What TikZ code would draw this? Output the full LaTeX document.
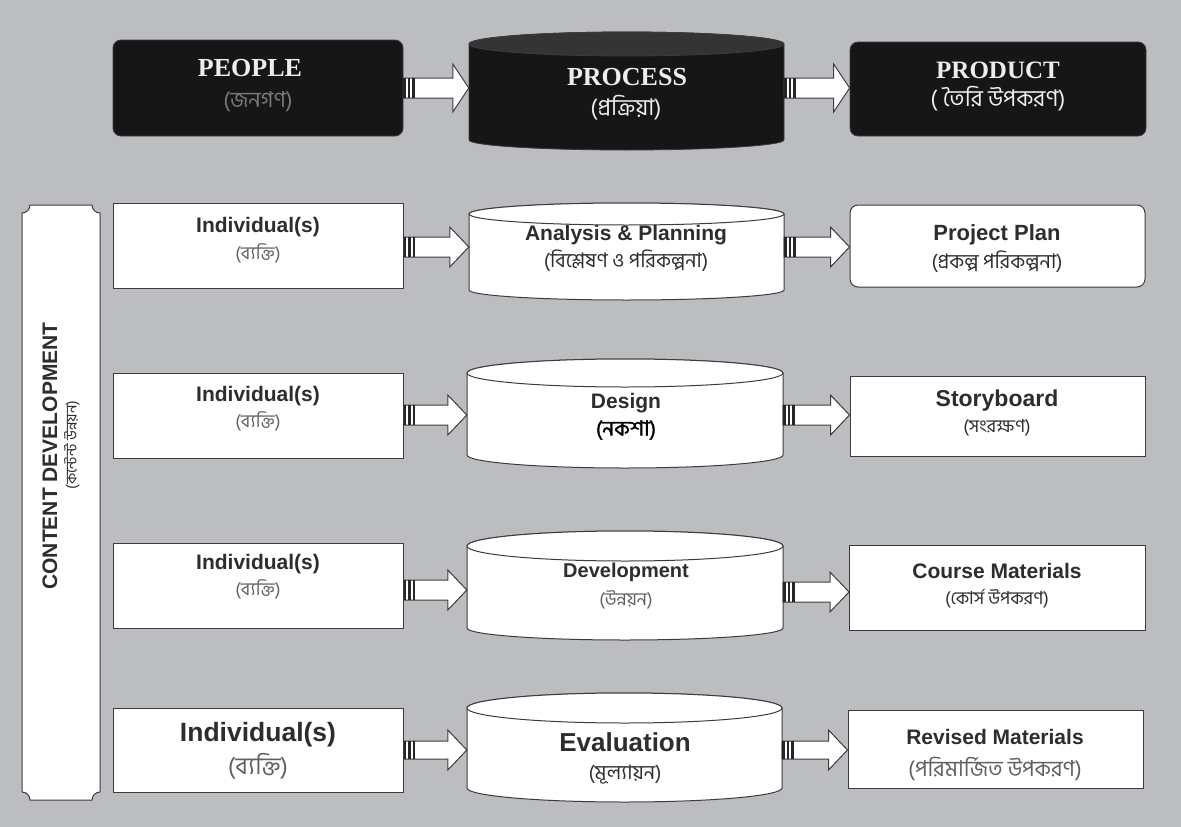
\documentclass[tikz,border=0pt]{standalone}
\usepackage{fontspec}
\setmainfont{Liberation Sans}
\newfontfamily\timesf{Liberation Serif}
\newfontfamily\bn[Script=Bengali]{Hind Siliguri}
\newfontfamily\bnb[Script=Bengali,FakeBold=1.5]{Hind Siliguri}
\usetikzlibrary{calc}
\definecolor{bg}{RGB}{188,189,193}
\definecolor{ink}{RGB}{45,45,45}
\definecolor{edge}{RGB}{60,60,60}
\definecolor{blk}{RGB}{22,22,22}
\definecolor{captop}{RGB}{52,52,52}
\definecolor{subgray}{RGB}{120,120,120}
\newcommand\fs[1]{\fontsize{#1}{#1}\selectfont}
\tikzset{
  box/.style={draw=edge, line width=1pt, fill=white, inner sep=0pt},
  topbox/.style={draw=edge, line width=0.8pt, fill=blk, rounded corners=8pt, inner sep=0pt},
  barshape/.style={draw=edge, line width=1pt, fill=white},
  cylbody/.style={draw=edge, line width=1pt, fill=white},
  cyltop/.style={draw=edge, line width=1pt, fill=white},
  dcylbody/.style={draw=edge, line width=0.8pt, fill=blk},
  dcyltop/.style={draw=edge, line width=0.8pt, fill=captop},
  arrowline/.style={draw=edge, line width=1pt, fill=white},
  toptxt/.style={font=\timesf\bfseries\fs{26}, text=white!93!black, inner sep=0pt},
  lab/.style={font=\bfseries\fs{21}, text=ink, inner sep=0pt},
  sub/.style={font=\bn\fs{18}, text=ink, inner sep=0pt},
}
% cylinder: name, x1, x2, y top-center, y bottom-center, ry top, ry bottom, body style, top style
\newcommand\cyl[9]{%
  \pgfmathsetmacro\cylhw{(#3-#2)/2}%
  \draw[#8] (#2,#4) -- (#2,#5) arc[start angle=180,end angle=360,x radius=\cylhw pt,y radius=#7pt]
     -- (#3,#4) arc[start angle=0,end angle=180,x radius=\cylhw pt,y radius=#6pt] -- cycle;
  \draw[#9] ({(#2+#3)/2},#4) ellipse[x radius=\cylhw pt,y radius=#6pt];
  \node[minimum width=2*\cylhw pt, minimum height={(#5-#4)*1pt}, inner sep=0pt] (#1) at ({(#2+#3)/2},{(#4+#5)/2}) {};
}
% block arrow: from, to, y, shaft half height, head half height, head length
\newcommand\blockarr[6]{%
  \coordinate (ay) at (0,#3);
  \coordinate (as) at (#1.east |- ay);
  \coordinate (ae) at (#2.west |- ay);
  \draw[arrowline] ($(as)+(0,-#4)$) -- ($(ae)+(-#6,-#4)$) -- ($(ae)+(-#6,-#5)$) -- (ae)
     -- ($(ae)+(-#6,#5)$) -- ($(ae)+(-#6,#4)$) -- ($(as)+(0,#4)$) -- cycle;
  \foreach \k in {0,4.5,9} \fill[black!85] ($(as)+(\k,-#4)$) rectangle ($(as)+(\k+2.5,#4)$);
}
\begin{document}
\begin{tikzpicture}[x=1pt,y=-1pt]
\useasboundingbox (0,0) rectangle (1181,827);
\fill[bg] (0,0) rectangle (1181,827);

% ---------- top row ----------
\node[topbox, minimum width=290pt, minimum height=96pt] (people) at (258,88) {};
\node[toptxt] (peopleT) at (250,68) {PEOPLE};
\node[sub, font=\bn\fs{22}, text=subgray] (peopleB) at (258,102) {(জনগণ)};

\cyl{process}{469}{784}{44}{140}{12}{10}{dcylbody}{dcyltop}
\node[toptxt] (processT) at (627,77) {PROCESS};
\node[sub, font=\bn\fs{23}, text=white!93!black] (processB) at (626,108) {(প্রক্রিয়া)};

\node[topbox, minimum width=296pt, minimum height=94pt] (product) at (998,89) {};
\node[toptxt, font=\timesf\bfseries\fs{25}] (productT) at (998,70) {PRODUCT};
\node[sub, font=\bn\fs{23}, text=white!93!black] (productB) at (998,99) {( তৈরি উপকরণ)};

\blockarr{people}{process}{88}{10}{24}{16}
\blockarr{process}{product}{88}{10}{24}{16}

% ---------- left bar ----------
\draw[barshape] (30,205) -- (92,205) arc[start angle=180,end angle=270,radius=8pt]
  -- (100,792) arc[start angle=90,end angle=180,radius=8pt]
  -- (30,800) arc[start angle=0,end angle=90,radius=8pt]
  -- (22,213) arc[start angle=270,end angle=360,radius=8pt] -- cycle;
\node[lab, rotate=90, font=\bfseries\fs{21}] (cdT) at (50,456) {CONTENT DEVELOPMENT};
\node[sub, rotate=90, font=\bn\fs{15}] (cdB) at (72,445) {(কন্টেন্ট উন্নয়ন)};

% ---------- row 1 ----------
\node[box, minimum width=290pt, minimum height=85pt] (ind1) at (258,245.5) {};
\node[lab] (ind1T) at (258,227) {Individual(s)};
\node[sub, text=subgray!80!black] (ind1B) at (258,253) {(ব্যক্তি)};
\cyl{ana}{469}{784}{214}{290}{11}{10}{cylbody}{cyltop}
\node[lab] (anaT) at (626,235) {Analysis \& Planning};
\node[sub, font=\bn\fs{20}] (anaB) at (626,261) {(বিশ্লেষণ ও পরিকল্পনা)};
\node[box, rounded corners=8pt, minimum width=295pt, minimum height=82pt] (plan) at (997.5,246) {};
\node[lab, font=\bfseries\fs{22}] (planT) at (997,235) {Project Plan};
\node[sub, font=\bn\fs{20}] (planB) at (997,262) {(প্রকল্প পরিকল্পনা)};
\blockarr{ind1}{ana}{247}{10}{20}{19}
\blockarr{ana}{plan}{247}{10}{20}{19}

% ---------- row 2 ----------
\node[box, minimum width=290pt, minimum height=85pt] (ind2) at (258,415.5) {};
\node[lab] (ind2T) at (258,396) {Individual(s)};
\node[sub, text=subgray!80!black] (ind2B) at (258,421) {(ব্যক্তি)};
\cyl{des}{467}{783}{373}{455}{14}{13}{cylbody}{cyltop}
\node[lab] (desT) at (626,403) {Design};
\node[sub, font=\bnb\fs{21}, text=black] (desB) at (626,430) {(নকশা)};
\node[box, minimum width=295pt, minimum height=80pt] (story) at (997.5,416) {};
\node[lab, font=\bfseries\fs{23}] (storyT) at (997,401) {Storyboard};
\node[sub] (storyB) at (997,428) {(সংরক্ষণ)};
\blockarr{ind2}{des}{415}{10}{20}{19}
\blockarr{des}{story}{415}{10}{20}{19}

% ---------- row 3 ----------
\node[box, minimum width=290pt, minimum height=85pt] (ind3) at (258,585.5) {};
\node[lab] (ind3T) at (258,564) {Individual(s)};
\node[sub, text=subgray!80!black] (ind3B) at (258,589) {(ব্যক্তি)};
\cyl{dev}{467}{783}{546}{628}{15}{12}{cylbody}{cyltop}
\node[lab, font=\bfseries\fs{20}] (devT) at (626,572) {Development};
\node[sub, text=subgray!80!black] (devB) at (626,600) {(উন্নয়ন)};
\node[box, minimum width=296pt, minimum height=85pt] (course) at (997.5,587.5) {};
\node[lab] (courseT) at (997,571) {Course Materials};
\node[sub] (courseB) at (997,599) {(কোর্স উপকরণ)};
\blockarr{ind3}{dev}{590}{10}{20}{19}
\blockarr{dev}{course}{592}{10}{20}{19}

% ---------- row 4 ----------
\node[box, minimum width=290pt, minimum height=84pt] (ind4) at (258,750) {};
\node[lab, font=\bfseries\fs{26.5}] (ind4T) at (258,735) {Individual(s)};
\node[sub, font=\bn\fs{24}, text=subgray!80!black] (ind4B) at (258,766) {(ব্যক্তি)};
\cyl{eval}{467}{782}{708}{788}{15}{14}{cylbody}{cyltop}
\node[lab, font=\bfseries\fs{26}] (evalT) at (625,742) {Evaluation};
\node[sub, font=\bn\fs{20}] (evalB) at (625,775) {(মূল্যায়ন)};
\node[box, minimum width=295pt, minimum height=78pt] (rev) at (995.5,749) {};
\node[lab] (revT) at (995,737) {Revised Materials};
\node[sub, font=\bn\fs{22}, text=subgray!80!black] (revB) at (995,769) {(পরিমার্জিত উপকরণ)};
\blockarr{ind4}{eval}{750}{9}{20}{19}
\blockarr{eval}{rev}{750}{9}{20}{19}
\end{tikzpicture}
\end{document}
